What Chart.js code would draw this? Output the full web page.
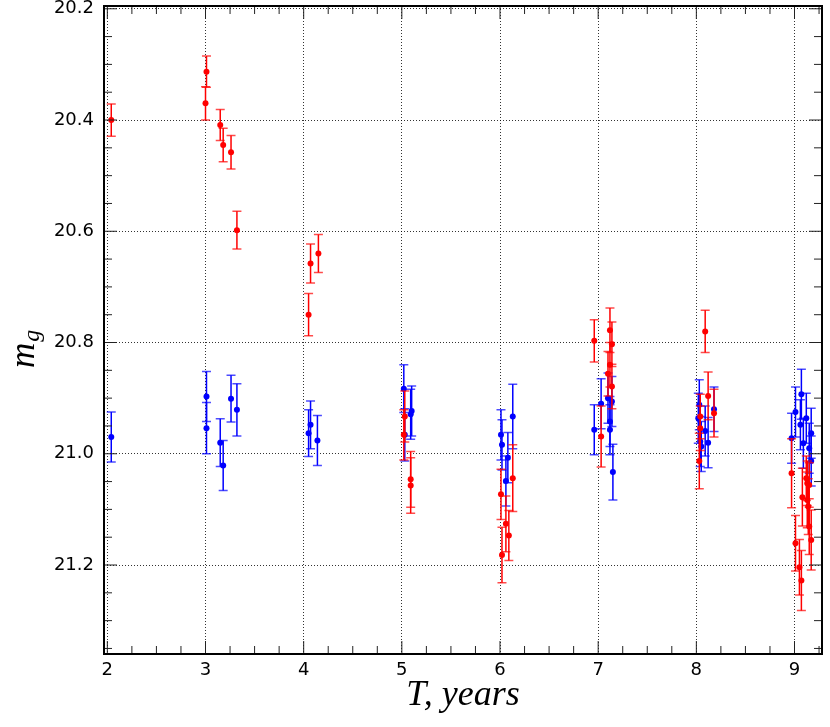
<!DOCTYPE html>
<html>
<head>
<meta charset="utf-8">
<script src="https://cdn.jsdelivr.net/npm/chart.js@4.4.1/dist/chart.umd.min.js"></script>
<style>
  html, body { margin: 0; padding: 0; background: #fff; }
  #wrap { width: 830px; height: 727px; position: relative; }
</style>
</head>
<body>
<div id="wrap"><canvas id="mag-chart"></canvas></div>
<script>
// red series: epoch (years), magnitude, error
const redT   = [2.04, 3.01, 3.00, 3.15, 3.18, 3.26, 3.32, 4.05, 4.07, 4.15,
                5.03, 5.02, 5.09, 5.09,
                6.01, 6.02, 6.06, 6.09, 6.13,
                6.96, 7.12, 7.14, 7.12, 7.10, 7.14, 7.03,
                8.09, 8.12, 8.04, 8.18, 8.04, 8.03,
                8.97, 9.01, 9.05, 9.07, 9.08, 9.12, 9.13, 9.15, 9.13, 9.14, 9.15, 9.17];
const redMag = [20.400, 20.313, 20.370, 20.409, 20.445, 20.458, 20.598, 20.750, 20.658, 20.640,
                20.933, 20.966, 21.046, 21.057,
                21.073, 21.182, 21.126, 21.147, 21.044,
                20.797, 20.778, 20.803, 20.840, 20.856, 20.879, 20.969,
                20.780, 20.896, 20.933, 20.927, 20.954, 21.013,
                21.035, 21.161, 21.204, 21.228, 21.078, 21.044, 21.053, 21.056, 21.083, 21.095, 21.131, 21.155];
const redErr = [0.029, 0.028, 0.030, 0.028, 0.030, 0.030, 0.034, 0.038, 0.035, 0.034,
                0.046, 0.045, 0.050, 0.050,
                0.045, 0.050, 0.050, 0.045, 0.060,
                0.038, 0.040, 0.040, 0.040, 0.040, 0.040, 0.055,
                0.038, 0.043, 0.040, 0.043, 0.040, 0.050,
                0.062, 0.050, 0.050, 0.054, 0.052, 0.040, 0.040, 0.040, 0.050, 0.050, 0.050, 0.054];

// blue series
const blueT   = [2.04, 3.01, 3.01, 3.15, 3.18, 3.26, 3.32, 4.05, 4.07, 4.14,
                 5.02, 5.03, 5.10, 5.09,
                 6.01, 6.02, 6.08, 6.06, 6.13,
                 6.96, 7.03, 7.10, 7.14, 7.12, 7.12, 7.15,
                 8.03, 8.18, 8.02, 8.09, 8.04, 8.05, 8.12,
                 8.97, 9.01, 9.07, 9.06, 9.09, 9.12, 9.15, 9.17, 9.17];
const blueMag = [20.970, 20.897, 20.954, 20.980, 21.021, 20.901, 20.921, 20.963, 20.948, 20.976,
                 20.883, 20.966, 20.923, 20.929,
                 20.966, 20.984, 21.007, 21.049, 20.933,
                 20.957, 20.910, 20.900, 20.906, 20.942, 20.957, 21.033,
                 20.912, 20.920, 20.936, 20.959, 20.978, 20.987, 20.980,
                 20.972, 20.925, 20.893, 20.948, 20.981, 20.936, 20.990, 20.963, 21.013];
const blueErr = [0.045, 0.045, 0.046, 0.043, 0.045, 0.042, 0.047, 0.042, 0.043, 0.045,
                 0.043, 0.047, 0.045, 0.045,
                 0.045, 0.045, 0.045, 0.045, 0.058,
                 0.045, 0.045, 0.045, 0.045, 0.045, 0.045, 0.050,
                 0.045, 0.040, 0.045, 0.045, 0.045, 0.045, 0.045,
                 0.045, 0.045, 0.045, 0.045, 0.045, 0.045, 0.045, 0.045, 0.045];

const xTicks = [2, 3, 4, 5, 6, 7, 8, 9];
const yTicks = [20.2, 20.4, 20.6, 20.8, 21.0, 21.2];

function points(t, m, e) {
  return t.map((v, i) => ({ x: v, y: m[i], err: e[i] }));
}

// vertical error bars with caps, drawn under each dataset's markers
const errorBars = {
  id: "errorBars",
  beforeDatasetDraw(chart, args) {
    const ds = chart.data.datasets[args.index];
    const ctx = chart.ctx, xs = chart.scales.x, ys = chart.scales.y;
    ctx.save();
    ctx.strokeStyle = ds.borderColor;
    ctx.lineWidth = 1.5;
    ds.data.forEach(p => {
      const x = xs.getPixelForValue(p.x);
      const y1 = ys.getPixelForValue(p.y - p.err);
      const y2 = ys.getPixelForValue(p.y + p.err);
      ctx.beginPath();
      ctx.moveTo(x, y1); ctx.lineTo(x, y2);
      ctx.stroke();
      ctx.globalAlpha = 0.7;
      ctx.beginPath();
      ctx.moveTo(x - 4.5, y1); ctx.lineTo(x + 4.5, y1);
      ctx.moveTo(x - 4.5, y2); ctx.lineTo(x + 4.5, y2);
      ctx.stroke();
      ctx.globalAlpha = 1;
    });
    ctx.restore();
  }
};

// box frame with inward ticks on all four sides
const frame = {
  id: "frame",
  afterDraw(chart) {
    const ctx = chart.ctx, a = chart.chartArea, xs = chart.scales.x, ys = chart.scales.y;
    ctx.save();
    ctx.strokeStyle = "#222";
    ctx.lineWidth = 1;
    const tick = (px, len, horiz) => {
      ctx.beginPath();
      if (horiz) {
        ctx.moveTo(px, a.bottom); ctx.lineTo(px, a.bottom - len);
        ctx.moveTo(px, a.top); ctx.lineTo(px, a.top + len);
      } else {
        ctx.moveTo(a.left, px); ctx.lineTo(a.left + len, px);
        ctx.moveTo(a.right, px); ctx.lineTo(a.right - len, px);
      }
      ctx.stroke();
    };
    for (let i = 0; i <= 29; i++) {
      const v = 2 + i * 0.25;
      if (v > xs.max) break;
      tick(xs.getPixelForValue(v), i % 4 === 0 ? 13 : 8, true);
    }
    for (let i = 0; i <= 23; i++) {
      const v = 20.2 + i * 0.05;
      if (v > ys.max) break;
      tick(ys.getPixelForValue(v), i % 4 === 0 ? 13 : 8, false);
    }
    ctx.strokeStyle = "#000";
    ctx.lineWidth = 2;
    ctx.strokeRect(a.left, a.top, a.right - a.left, a.bottom - a.top);
    ctx.restore();
  }
};

// axis titles in italic serif, m with subscript g
const titles = {
  id: "titles",
  afterDraw(chart) {
    const ctx = chart.ctx, a = chart.chartArea;
    ctx.save();
    ctx.fillStyle = "#000";
    ctx.textAlign = "center";
    ctx.textBaseline = "alphabetic";
    ctx.font = "italic 36px 'Liberation Serif'";
    ctx.fillText("T, years", (a.left + a.right) / 2, 705);

    ctx.translate(34, 368);
    ctx.rotate(-Math.PI / 2);
    ctx.textAlign = "left";
    ctx.font = "italic 35px 'Liberation Serif'";
    ctx.fillText("m", 0, 0);
    const w = ctx.measureText("m").width;
    ctx.font = "italic 24px 'Liberation Serif'";
    ctx.fillText("g", w + 1, 5);
    ctx.restore();
  }
};

new Chart(document.getElementById("mag-chart"), {
  type: "scatter",
  data: {
    datasets: [
      {
        label: "red",
        data: points(redT, redMag, redErr),
        backgroundColor: "#ff0000",
        borderColor: "#ff0000",
        pointRadius: 3,
        pointBorderWidth: 0,
      },
      {
        label: "blue",
        data: points(blueT, blueMag, blueErr),
        backgroundColor: "#0000ff",
        borderColor: "#0000ff",
        pointRadius: 3,
        pointBorderWidth: 0,
      },
    ],
  },
  options: {
    responsive: true,
    maintainAspectRatio: false,
    animation: false,
    layout: { padding: { top: 6, right: 8, left: 0, bottom: 0 } },
    plugins: {
      legend: { display: false },
      tooltip: { enabled: false },
    },
    scales: {
      x: {
        type: "linear",
        min: 1.966,
        max: 9.28,
        afterBuildTicks: s => { s.ticks = xTicks.map(v => ({ value: v })); },
        afterFit: s => { s.height = 73; s.paddingLeft = 0; s.paddingRight = 0; },
        grid: { color: "rgba(0,0,0,0.8)", lineWidth: 1, drawTicks: false },
        border: { display: false, dash: [1, 2] },
        ticks: {
          color: "#000",
          font: { family: "DejaVu Sans", size: 18 },
          padding: 6,
          maxRotation: 0,
          autoSkip: false,
          callback: v => String(v),
        },
      },
      y: {
        type: "linear",
        reverse: true,
        min: 20.195,
        max: 21.36,
        afterBuildTicks: s => { s.ticks = yTicks.map(v => ({ value: v })); },
        afterFit: s => { s.width = 104; s.paddingTop = 0; s.paddingBottom = 0; },
        grid: { color: "rgba(0,0,0,0.8)", lineWidth: 1, drawTicks: false },
        border: { display: false, dash: [1, 2] },
        ticks: {
          color: "#000",
          font: { family: "DejaVu Sans", size: 18 },
          padding: 10,
          autoSkip: false,
          callback: v => v.toFixed(1),
        },
      },
    },
  },
  plugins: [errorBars, frame, titles],
});
</script>
</body>
</html>
